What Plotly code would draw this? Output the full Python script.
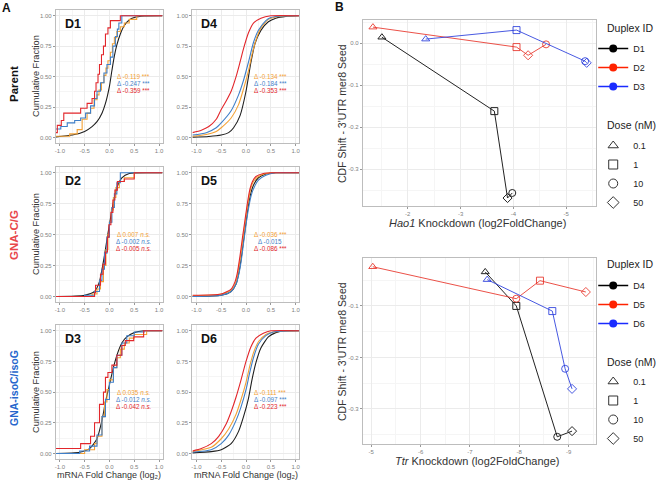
import plotly.graph_objects as go

W, H = 666, 481

# ---------------- Panel A data: cumulative fraction vs mRNA fold change (log2) ----------------
# Curve order per panel: all genes (black), then orange, blue, red
D1_BLACK_X = [-1.08, -0.75, -0.5, -0.35, -0.25, -0.15, -0.08, 0.0, 0.05, 0.1, 0.15, 0.22, 0.3, 0.4, 0.5, 0.7, 1.07]
D1_BLACK_Y = [0.005, 0.02, 0.05, 0.09, 0.13, 0.2, 0.28, 0.42, 0.55, 0.67, 0.76, 0.85, 0.92, 0.965, 0.985, 0.998, 1.0]
D1_ORANGE_X = [-1.08, -0.8, -0.65, -0.55, -0.45, -0.38, -0.31, -0.25, -0.21, -0.16, -0.11, -0.07, -0.03, 0.02, 0.06, 0.1, 0.15, 0.22, 0.3, 0.4, 0.55, 1.07]
D1_ORANGE_Y = [0.01, 0.03, 0.065, 0.15, 0.2, 0.24, 0.31, 0.35, 0.39, 0.45, 0.51, 0.57, 0.63, 0.7, 0.77, 0.82, 0.87, 0.91, 0.94, 0.97, 1.0, 1.0]
D1_BLUE_X = [-1.08, -0.98, -0.85, -0.7, -0.58, -0.48, -0.38, -0.3, -0.25, -0.18, -0.11, -0.05, 0.02, 0.07, 0.12, 0.16, 0.19, 0.25, 1.07]
D1_BLUE_Y = [0.07, 0.09, 0.12, 0.14, 0.16, 0.2, 0.26, 0.32, 0.38, 0.45, 0.53, 0.6, 0.66, 0.75, 0.83, 0.89, 0.94, 1.0, 1.0]
D1_RED_X = [-1.08, -1.05, -0.97, -0.92, -0.58, -0.45, -0.35, -0.3, -0.27, -0.23, -0.2, -0.16, -0.12, -0.08, -0.03, 0.02, 0.22, 1.07]
D1_RED_Y = [0.04, 0.1, 0.14, 0.2, 0.24, 0.28, 0.32, 0.38, 0.45, 0.52, 0.6, 0.68, 0.75, 0.85, 0.9, 0.96, 1.0, 1.0]

D4_BLACK_X = [-1.08, -0.75, -0.5, -0.35, -0.25, -0.12, 0.0, 0.05, 0.1, 0.18, 0.3, 0.45, 0.6, 0.8, 1.07]
D4_BLACK_Y = [0.003, 0.008, 0.02, 0.04, 0.08, 0.18, 0.38, 0.5, 0.62, 0.77, 0.88, 0.95, 0.98, 0.995, 1.0]
D4_ORANGE_X = [-1.08, -0.8, -0.6, -0.5, -0.3, -0.15, -0.05, 0.05, 0.12, 0.2, 0.3, 0.45, 0.6, 0.8, 1.07]
D4_ORANGE_Y = [0.01, 0.025, 0.05, 0.08, 0.16, 0.27, 0.4, 0.55, 0.68, 0.8, 0.9, 0.97, 0.99, 0.998, 1.0]
D4_BLUE_X = [-1.08, -0.8, -0.6, -0.5, -0.3, -0.15, -0.05, 0.05, 0.15, 0.25, 0.4, 0.5, 0.7, 1.07]
D4_BLUE_Y = [0.02, 0.04, 0.08, 0.12, 0.22, 0.35, 0.47, 0.62, 0.78, 0.88, 0.96, 0.985, 0.998, 1.0]
D4_RED_X = [-1.08, -0.9, -0.75, -0.6, -0.5, -0.4, -0.3, -0.2, -0.12, -0.05, 0.05, 0.15, 0.3, 0.5, 1.07]
D4_RED_Y = [0.04, 0.06, 0.09, 0.15, 0.23, 0.3, 0.38, 0.5, 0.62, 0.73, 0.86, 0.94, 0.98, 1.0, 1.0]

D2_BLACK_X = [-1.08, -0.5, -0.3, -0.2, -0.15, -0.1, -0.05, 0.0, 0.05, 0.1, 0.15, 0.25, 0.4, 1.07]
D2_BLACK_Y = [0.0, 0.01, 0.04, 0.12, 0.22, 0.33, 0.46, 0.58, 0.7, 0.8, 0.88, 0.96, 0.995, 1.0]
D2_ORANGE_X = [-1.08, -0.35, -0.25, -0.18, -0.12, -0.07, -0.03, 0.0, 0.04, 0.08, 0.13, 0.2, 0.3, 0.5, 1.07]
D2_ORANGE_Y = [0.0, 0.02, 0.06, 0.12, 0.25, 0.38, 0.5, 0.6, 0.7, 0.8, 0.88, 0.93, 0.96, 1.0, 1.0]
D2_BLUE_X = [-1.08, -0.5, -0.3, -0.2, -0.15, -0.1, -0.05, 0.0, 0.05, 0.1, 0.15, 0.22, 1.07]
D2_BLUE_Y = [0.0, 0.01, 0.04, 0.13, 0.22, 0.35, 0.48, 0.6, 0.72, 0.83, 0.92, 1.0, 1.0]
D2_RED_X = [-1.08, -0.3, -0.28, -0.18, -0.13, -0.08, -0.04, -0.01, 0.03, 0.07, 0.11, 0.16, 0.3, 0.5, 1.07]
D2_RED_Y = [0.0, 0.03, 0.09, 0.18, 0.26, 0.36, 0.48, 0.58, 0.68, 0.78, 0.86, 0.93, 0.95, 1.0, 1.0]

D5_BLACK_X = [-1.08, -0.5, -0.3, -0.2, -0.15, -0.1, -0.05, 0.0, 0.05, 0.1, 0.15, 0.25, 0.4, 0.6, 1.07]
D5_BLACK_Y = [0.0, 0.01, 0.04, 0.1, 0.18, 0.3, 0.45, 0.6, 0.74, 0.84, 0.9, 0.96, 0.99, 1.0, 1.0]
D5_ORANGE_X = [-1.08, -0.5, -0.3, -0.2, -0.15, -0.1, -0.05, 0.0, 0.05, 0.1, 0.15, 0.25, 0.4, 0.6, 1.07]
D5_ORANGE_Y = [0.005, 0.02, 0.05, 0.12, 0.22, 0.35, 0.5, 0.65, 0.78, 0.88, 0.93, 0.97, 0.995, 1.0, 1.0]
D5_BLUE_X = [-1.08, -0.5, -0.3, -0.2, -0.15, -0.1, -0.05, 0.0, 0.05, 0.1, 0.15, 0.25, 0.4, 0.6, 1.07]
D5_BLUE_Y = [0.0, 0.01, 0.04, 0.1, 0.17, 0.28, 0.43, 0.58, 0.71, 0.81, 0.87, 0.94, 0.98, 1.0, 1.0]
D5_RED_X = [-1.08, -0.5, -0.3, -0.22, -0.18, -0.12, -0.07, -0.02, 0.03, 0.08, 0.13, 0.2, 0.35, 0.5, 1.07]
D5_RED_Y = [0.01, 0.02, 0.06, 0.12, 0.18, 0.33, 0.48, 0.62, 0.76, 0.87, 0.93, 0.97, 0.995, 1.0, 1.0]

D3_BLACK_X = [-1.08, -0.6, -0.4, -0.25, -0.15, -0.08, 0.0, 0.08, 0.15, 0.25, 0.35, 0.5, 0.7, 1.07]
D3_BLACK_Y = [0.0, 0.01, 0.04, 0.12, 0.27, 0.42, 0.56, 0.7, 0.8, 0.9, 0.95, 0.985, 1.0, 1.0]
D3_ORANGE_X = [-1.08, -0.5, -0.3, -0.25, -0.15, -0.1, -0.05, 0.0, 0.08, 0.15, 0.22, 0.3, 0.4, 0.5, 0.75, 1.07]
D3_ORANGE_Y = [0.0, 0.03, 0.08, 0.14, 0.3, 0.42, 0.52, 0.6, 0.7, 0.78, 0.85, 0.9, 0.94, 0.97, 1.0, 1.0]
D3_BLUE_X = [-1.08, -0.6, -0.4, -0.25, -0.15, -0.08, 0.0, 0.08, 0.15, 0.25, 0.35, 0.5, 0.7, 1.07]
D3_BLUE_Y = [0.0, 0.02, 0.06, 0.15, 0.3, 0.44, 0.58, 0.7, 0.8, 0.9, 0.96, 0.99, 1.0, 1.0]
D3_RED_X = [-1.08, -0.58, -0.38, -0.3, -0.2, -0.12, -0.08, -0.03, 0.05, 0.15, 0.25, 0.32, 0.49, 0.69, 1.07]
D3_RED_Y = [0.04, 0.08, 0.14, 0.25, 0.4, 0.5, 0.62, 0.66, 0.72, 0.8, 0.88, 0.92, 0.95, 1.0, 1.0]

D6_BLACK_X = [-1.08, -0.7, -0.5, -0.3, -0.15, -0.05, 0.05, 0.12, 0.2, 0.3, 0.45, 0.6, 0.8, 1.07]
D6_BLACK_Y = [0.005, 0.015, 0.03, 0.08, 0.18, 0.3, 0.45, 0.6, 0.74, 0.86, 0.95, 0.985, 1.0, 1.0]
D6_ORANGE_X = [-1.08, -0.7, -0.5, -0.35, -0.2, -0.1, 0.0, 0.08, 0.15, 0.25, 0.4, 0.55, 1.07]
D6_ORANGE_Y = [0.015, 0.05, 0.12, 0.2, 0.32, 0.44, 0.58, 0.72, 0.82, 0.91, 0.97, 0.99, 1.0]
D6_BLUE_X = [-1.08, -0.7, -0.5, -0.35, -0.2, -0.1, 0.0, 0.07, 0.15, 0.25, 0.4, 0.55, 1.07]
D6_BLUE_Y = [0.01, 0.03, 0.08, 0.15, 0.27, 0.38, 0.52, 0.65, 0.78, 0.89, 0.96, 0.99, 1.0]
D6_RED_X = [-1.08, -0.9, -0.7, -0.55, -0.4, -0.3, -0.2, -0.1, 0.0, 0.1, 0.2, 0.35, 0.5, 1.07]
D6_RED_Y = [0.02, 0.04, 0.08, 0.14, 0.24, 0.34, 0.46, 0.6, 0.75, 0.87, 0.94, 0.98, 1.0, 1.0]

# CDF shift labels (orange, blue, red)
D1_DELTA = ["Δ -0.119 ***", "Δ -0.247 ***", "Δ -0.359 ***"]
D4_DELTA = ["Δ -0.134 ***", "Δ -0.184 ***", "Δ -0.353 ***"]
D2_DELTA = ["Δ 0.007 <i>n.s.</i>", "Δ -0.002 <i>n.s.</i>", "Δ -0.005 <i>n.s.</i>"]
D5_DELTA = ["Δ -0.036 ***", "Δ -0.015", "Δ -0.086 ***"]
D3_DELTA = ["Δ 0.035 <i>n.s.</i>", "Δ -0.012 <i>n.s.</i>", "Δ -0.042 <i>n.s.</i>"]
D6_DELTA = ["Δ -0.111 ***", "Δ -0.097 ***", "Δ -0.223 ***"]

A_X_TICKS = [-1.0, -0.5, 0.0, 0.5, 1.0]
A_X_LABELS = ["-1.0", "-0.5", "0.0", "0.5", "1.0"]
A_Y_TICKS = [0.0, 0.25, 0.5, 0.75, 1.0]
A_Y_LABELS = ["0.00", "0.25", "0.50", "0.75", "1.00"]

# ---------------- Panel B data: CDF shift vs knockdown ----------------
DOSES = ["0.1", "1", "10", "50"]
HAO1_D1_KD = [-1.51, -3.64, -3.98, -3.89]
HAO1_D1_SHIFT = [0.014, -0.162, -0.357, -0.369]
HAO1_D2_KD = [-1.34, -4.06, -4.62, -4.28]
HAO1_D2_SHIFT = [0.038, -0.0095, -0.003, -0.029]
HAO1_D3_KD = [-2.34, -4.06, -5.36, -5.39]
HAO1_D3_SHIFT = [0.0095, 0.031, -0.043, -0.047]
TTR_D4_KD = [-7.31, -7.94, -8.77, -9.07]
TTR_D4_SHIFT = [-0.034, -0.100, -0.354, -0.343]
TTR_D5_KD = [-5.03, -8.42, -7.94, -9.35]
TTR_D5_SHIFT = [-0.024, -0.051, -0.086, -0.073]
TTR_D6_KD = [-7.35, -8.67, -8.93, -9.07]
TTR_D6_SHIFT = [-0.049, -0.110, -0.222, -0.261]

HAO1_X_TICKS = [-2, -3, -4, -5]
HAO1_Y_TICKS = [0.0, -0.1, -0.2, -0.3]
HAO1_Y_LABELS = ["0.0", "-0.1", "-0.2", "-0.3"]
TTR_X_TICKS = [-5, -6, -7, -8, -9]
TTR_Y_TICKS = [-0.1, -0.2, -0.3]
TTR_Y_LABELS = ["-0.1", "-0.2", "-0.3"]

# ---------------- styling ----------------
FONT = "Liberation Sans, Arial, sans-serif"
C_BLACK = "#1f1f1f"
C_ORANGE = "#F4A236"
C_BLUE = "#3F7FC8"
C_RED = "#E2262B"
GRID = "#EBEBEB"
GRID_MINOR = "#F5F5F5"
BORDER = "#BDBDBD"
TICKC = "#7F7F7F"

DOSE_SYMBOLS = {"0.1": "triangle-up-open", "1": "square-open", "10": "circle-open", "50": "diamond-open"}


def fx(p):
    return p / W


def fy(p):
    return 1 - p / H


A_COLS = [(55, 162), (192, 299)]
A_ROWS = [(10, 143), (167, 302), (325, 459)]

fig = go.Figure()

a_panels = [
    ("D1", 0, 0, (D1_BLACK_X, D1_BLACK_Y), (D1_ORANGE_X, D1_ORANGE_Y), (D1_BLUE_X, D1_BLUE_Y), (D1_RED_X, D1_RED_Y), D1_DELTA, "hv"),
    ("D4", 0, 1, (D4_BLACK_X, D4_BLACK_Y), (D4_ORANGE_X, D4_ORANGE_Y), (D4_BLUE_X, D4_BLUE_Y), (D4_RED_X, D4_RED_Y), D4_DELTA, "spline"),
    ("D2", 1, 0, (D2_BLACK_X, D2_BLACK_Y), (D2_ORANGE_X, D2_ORANGE_Y), (D2_BLUE_X, D2_BLUE_Y), (D2_RED_X, D2_RED_Y), D2_DELTA, "hv"),
    ("D5", 1, 1, (D5_BLACK_X, D5_BLACK_Y), (D5_ORANGE_X, D5_ORANGE_Y), (D5_BLUE_X, D5_BLUE_Y), (D5_RED_X, D5_RED_Y), D5_DELTA, "spline"),
    ("D3", 2, 0, (D3_BLACK_X, D3_BLACK_Y), (D3_ORANGE_X, D3_ORANGE_Y), (D3_BLUE_X, D3_BLUE_Y), (D3_RED_X, D3_RED_Y), D3_DELTA, "hv"),
    ("D6", 2, 1, (D6_BLACK_X, D6_BLACK_Y), (D6_ORANGE_X, D6_ORANGE_Y), (D6_BLUE_X, D6_BLUE_Y), (D6_RED_X, D6_RED_Y), D6_DELTA, "spline"),
]

annotations = []
layout_axes = {}


def axis_common():
    return dict(
        showline=True, mirror=True, linecolor=BORDER, linewidth=1,
        showgrid=True, gridcolor=GRID, gridwidth=0.8, zeroline=False,
        ticks="outside", ticklen=2, tickcolor="#999999", tickwidth=0.8,
        tickfont=dict(size=6, color=TICKC, family=FONT),
    )


delta_y = {0: [76, 83, 90], 1: [234, 241, 248], 2: [392, 399, 406]}
delta_x = {0: 133, 1: 270}
label_y = {0: 24, 1: 181, 2: 339}
label_x = {0: 62, 1: 199}

for i, (name, r, c, blk, org, blu, red, deltas, shape) in enumerate(a_panels):
    idx = i + 1
    xa = "x" if idx == 1 else f"x{idx}"
    ya = "y" if idx == 1 else f"y{idx}"
    x0, x1 = A_COLS[c]
    y0, y1 = A_ROWS[r]
    ax = axis_common()
    ax.update(domain=[fx(x0), fx(x1)], range=[-1.08, 1.07], anchor=ya,
              tickvals=A_X_TICKS, ticktext=A_X_LABELS,
              minor=dict(tickvals=[-0.75, -0.25, 0.25, 0.75], showgrid=True, gridcolor=GRID_MINOR, gridwidth=0.6))
    ay = axis_common()
    ay.update(domain=[fy(y1), fy(y0)], range=[-0.045, 1.047], anchor=xa,
              tickvals=A_Y_TICKS, ticktext=A_Y_LABELS,
              minor=dict(tickvals=[0.125, 0.375, 0.625, 0.875], showgrid=True, gridcolor=GRID_MINOR, gridwidth=0.6))
    layout_axes["xaxis" if idx == 1 else f"xaxis{idx}"] = ax
    layout_axes["yaxis" if idx == 1 else f"yaxis{idx}"] = ay

    fig.add_trace(go.Scatter(x=blk[0], y=blk[1], mode="lines", xaxis=xa, yaxis=ya, showlegend=False,
                             line=dict(color=C_BLACK, width=1.1, shape="spline", smoothing=0.6), hoverinfo="skip"))
    for data, col in ((org, C_ORANGE), (blu, C_BLUE), (red, C_RED)):
        ln = dict(color=col, width=1.1, shape=shape)
        if shape == "spline":
            ln["smoothing"] = 0.6
        fig.add_trace(go.Scatter(x=data[0], y=data[1], mode="lines", xaxis=xa, yaxis=ya, showlegend=False,
                                 line=ln, hoverinfo="skip"))

    for k, (txt_, col) in enumerate(zip(deltas, (C_ORANGE, C_BLUE, C_RED))):
        annotations.append(dict(x=fx(delta_x[c]), y=fy(delta_y[r][k]), xref="paper", yref="paper",
                                text=txt_, showarrow=False, xanchor="center", yanchor="middle", borderpad=0,
                                font=dict(size=6.3, color=col, family=FONT)))
    annotations.append(dict(x=fx(label_x[c]), y=fy(label_y[r]), xref="paper", yref="paper",
                            text=f"<b>{name}</b>", showarrow=False, xanchor="left", yanchor="middle",
                            font=dict(size=12.5, color="#111111", family=FONT)))

# ---- Panel B axes ----
B_X = (363, 597)
B_TOP = (20, 206)
B_BOT = (258, 444)

ax7 = axis_common()
ax7.update(domain=[fx(B_X[0]), fx(B_X[1])], range=[-1.15, -5.57], anchor="y7",
           tickvals=HAO1_X_TICKS, ticktext=[str(t) for t in HAO1_X_TICKS],
           minor=dict(tickvals=[-1.5, -2.5, -3.5, -4.5, -5.5], showgrid=True, gridcolor=GRID_MINOR, gridwidth=0.6))
ay7 = axis_common()
ay7.update(domain=[fy(B_TOP[1]), fy(B_TOP[0])], range=[-0.388, 0.055], anchor="x7",
           tickvals=HAO1_Y_TICKS, ticktext=HAO1_Y_LABELS,
           minor=dict(tickvals=[0.05, -0.05, -0.15, -0.25, -0.35], showgrid=True, gridcolor=GRID_MINOR, gridwidth=0.6))
ax8 = axis_common()
ax8.update(domain=[fx(B_X[0]), fx(B_X[1])], range=[-4.83, -9.56], anchor="y8",
           tickvals=TTR_X_TICKS, ticktext=[str(t) for t in TTR_X_TICKS],
           minor=dict(tickvals=[-5.5, -6.5, -7.5, -8.5, -9.5], showgrid=True, gridcolor=GRID_MINOR, gridwidth=0.6))
ay8 = axis_common()
ay8.update(domain=[fy(B_BOT[1]), fy(B_BOT[0])], range=[-0.368, -0.007], anchor="x8",
           tickvals=TTR_Y_TICKS, ticktext=TTR_Y_LABELS,
           minor=dict(tickvals=[-0.05, -0.15, -0.25, -0.35], showgrid=True, gridcolor=GRID_MINOR, gridwidth=0.6))
layout_axes.update(xaxis7=ax7, yaxis7=ay7, xaxis8=ax8, yaxis8=ay8)

B_SERIES = [
    ("x7", "y7", HAO1_D1_KD, HAO1_D1_SHIFT, "#222222"),
    ("x7", "y7", HAO1_D2_KD, HAO1_D2_SHIFT, "rgba(232,50,40,0.85)"),
    ("x7", "y7", HAO1_D3_KD, HAO1_D3_SHIFT, "rgba(40,60,220,0.85)"),
    ("x8", "y8", TTR_D4_KD, TTR_D4_SHIFT, "#222222"),
    ("x8", "y8", TTR_D5_KD, TTR_D5_SHIFT, "rgba(232,50,40,0.85)"),
    ("x8", "y8", TTR_D6_KD, TTR_D6_SHIFT, "rgba(40,60,220,0.85)"),
]

for xa, ya, kd, shift, col in B_SERIES:
    order = sorted(range(len(kd)), key=lambda j: kd[j])
    xs = [kd[j] for j in order]
    ys = [shift[j] for j in order]
    syms = [DOSE_SYMBOLS[DOSES[j]] for j in order]
    fig.add_trace(go.Scatter(x=xs, y=ys, mode="lines+markers", xaxis=xa, yaxis=ya, showlegend=False,
                             line=dict(color=col, width=1),
                             marker=dict(symbol=syms, size=7, color=col, line=dict(width=1, color=col)),
                             hoverinfo="skip"))

# ---- legends ----
LEG_DUPLEX_TOP = ["D1", "D2", "D3"]
LEG_DUPLEX_BOT = ["D4", "D5", "D6"]
LEG_COLORS = ["#000000", "#FF2200", "#1A2BFF"]

for lg, names in (("legend", LEG_DUPLEX_TOP), ("legend3", LEG_DUPLEX_BOT)):
    for nm, col in zip(names, LEG_COLORS):
        fig.add_trace(go.Scatter(x=[None], y=[None], mode="lines+markers", name=nm, legend=lg,
                                 legendgroup=lg + nm, xaxis="x7", yaxis="y7",
                                 line=dict(color=col, width=1.5), marker=dict(symbol="circle", size=8, color=col)))
for lg in ("legend2", "legend4"):
    for d in DOSES:
        fig.add_trace(go.Scatter(x=[None], y=[None], mode="markers", name=d, legend=lg,
                                 legendgroup=lg + d, xaxis="x7", yaxis="y7",
                                 marker=dict(symbol=DOSE_SYMBOLS[d], size=9, color="#333333",
                                             line=dict(width=1, color="#333333"))))


def leg(top):
    return dict(x=fx(594), y=fy(top), xanchor="left", yanchor="top", bgcolor="rgba(0,0,0,0)",
                font=dict(size=9, color="#222222", family=FONT), itemwidth=30, tracegroupgap=0)


def txt(x, y, s, size, color="#222222", angle=0, xanchor="center", bold=False, family=FONT):
    annotations.append(dict(x=fx(x), y=fy(y), xref="paper", yref="paper", text=(f"<b>{s}</b>" if bold else s),
                            showarrow=False, xanchor=xanchor, yanchor="middle", textangle=angle, borderpad=0,
                            font=dict(size=size, color=color, family=family)))


txt(607, 28, "Duplex ID", 10.5, xanchor="left")
txt(607, 125, "Dose (nM)", 10.5, xanchor="left")
txt(607, 264, "Duplex ID", 10.5, xanchor="left")
txt(607, 362, "Dose (nM)", 10.5, xanchor="left")

txt(6, 8, "A", 12, "#111111", bold=True)
txt(340, 7, "B", 12, "#111111", bold=True)

txt(13, 84, "Parent", 11.5, "#111111", angle=-90, bold=True)
txt(13, 235, "GNA-C/G", 11.5, "#E8474B", angle=-90, bold=True)
txt(13, 388, "GNA-isoC/isoG", 10.5, "#2566CC", angle=-90, bold=True)

for cy in (76, 234, 392):
    txt(35, cy, "Cumulative Fraction", 9.2, "#333333", angle=-90)
for cx in (108.5, 245.5):
    txt(cx, 474.5, "mRNA Fold Change (log\u2082)", 9, "#333333")

txt(342, 113, "CDF Shift - 3'UTR mer8 Seed", 10.5, "#333333", angle=-90)
txt(342, 351, "CDF Shift - 3'UTR mer8 Seed", 10.5, "#333333", angle=-90)
txt(478, 223, "<i>Hao1</i> Knockdown (log2FoldChange)", 11, "#333333")
txt(478, 461, "<i>Ttr</i> Knockdown (log2FoldChange)", 11, "#333333")

fig.update_layout(
    width=W, height=H, autosize=False,
    margin=dict(l=0, r=0, t=0, b=0),
    paper_bgcolor="white", plot_bgcolor="white",
    font=dict(family=FONT),
    annotations=annotations,
    legend=leg(34), legend2=leg(131), legend3=leg(271), legend4=leg(367),
    **layout_axes,
)

fig.write_html("out.html", config={"displayModeBar": False},
               post_script="document.body.style.margin='0';")
